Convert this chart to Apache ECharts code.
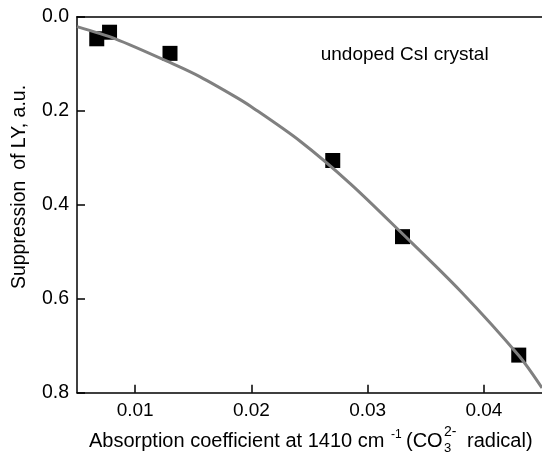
<!DOCTYPE html>
<html>
<head>
<meta charset="utf-8">
<script src="https://cdn.jsdelivr.net/npm/echarts@6/dist/echarts.min.js"></script>
<style>
html,body{margin:0;padding:0;background:#fff;}
#chart{width:542px;height:458px;}
</style>
</head>
<body>
<div id="chart"></div>
<script>
// Measured points (squares)
const pointX = [0.0067, 0.0078, 0.0130, 0.0270, 0.0330, 0.0430];
const pointY = [0.047, 0.033, 0.078, 0.306, 0.468, 0.720];
// Fit curve
const fitX = [0.005, 0.0083, 0.0135, 0.0156, 0.0186, 0.0199, 0.0242, 0.0285, 0.0328, 0.0380, 0.0430, 0.0450];
const fitY = [0.021, 0.047, 0.103, 0.128, 0.170, 0.190, 0.265, 0.355, 0.457, 0.584, 0.721, 0.790];
// Tick labels
const xTicks = [0.01, 0.02, 0.03, 0.04];
const yTicks = ['0.0', '0.2', '0.4', '0.6', '0.8'];

const FONT = '"Liberation Sans", Arial, sans-serif';
const chart = echarts.init(document.getElementById('chart'));

const pts = pointX.map((x, i) => [x, pointY[i]]);
const fit = fitX.map((x, i) => [x, fitY[i]]);

chart.setOption({
  animation: false,
  backgroundColor: '#fff',
  grid: { left: 77, right: 0, top: 16.7, bottom: 65.3, containLabel: false },
  xAxis: [{
    type: 'value', min: 0.005, max: 0.045, position: 'bottom',
    axisLine: { show: true, onZero: false, lineStyle: { color: '#000', width: 1.5 } },
    axisTick: { show: true, inside: true, length: 8, customValues: xTicks, lineStyle: { color: '#000', width: 1.5 } },
    axisLabel: { customValues: xTicks, color: '#000', fontSize: 19, fontFamily: FONT, margin: 9,
      formatter: v => String(Math.round(v * 100) / 100) },
    splitLine: { show: false }
  }, {
    type: 'value', min: 0.005, max: 0.045, position: 'top',
    axisLine: { show: true, onZero: false, lineStyle: { color: '#000', width: 1.5 } },
    axisTick: { show: false }, axisLabel: { show: false }, splitLine: { show: false }
  }],
  yAxis: {
    type: 'value', inverse: true, min: 0, max: 0.8, interval: 0.2,
    axisLine: { show: true, onZero: false, lineStyle: { color: '#000', width: 1.5 } },
    axisTick: { show: true, inside: true, length: 8, lineStyle: { color: '#000', width: 1.5 } },
    axisLabel: { color: '#000', fontSize: 19.5, fontFamily: FONT, margin: 8,
      formatter: v => yTicks[Math.round(v / 0.2)] },
    splitLine: { show: false }
  },
  series: [{
    type: 'scatter', data: pts, symbol: 'rect', symbolSize: 15,
    itemStyle: { color: '#000', opacity: 1 }, z: 2
  }, {
    type: 'line', data: fit, smooth: 0.3, showSymbol: false, clip: true,
    lineStyle: { color: '#808080', width: 3 }, z: 3
  }],
  graphic: [
    { type: 'text', x: 19.5, y: 187, rotation: Math.PI / 2,
      style: { text: 'Suppression  of LY, a.u.', font: '19.5px ' + FONT, fill: '#000', align: 'center', verticalAlign: 'middle' } },
    { type: 'text', x: 320.7, y: 54.5,
      style: { text: 'undoped CsI crystal', font: '19px ' + FONT, fill: '#000', align: 'left', verticalAlign: 'middle' } },
    { type: 'text', x: 89, y: 441.6,
      style: { text: 'Absorption coefficient at 1410 cm', font: '20px ' + FONT, fill: '#000', align: 'left', verticalAlign: 'middle' } },
    { type: 'text', x: 391, y: 434.7,
      style: { text: '-1', font: '12px ' + FONT, fill: '#000', align: 'left', verticalAlign: 'middle' } },
    { type: 'text', x: 406, y: 441.6,
      style: { text: '(CO', font: '20px ' + FONT, fill: '#000', align: 'left', verticalAlign: 'middle' } },
    { type: 'text', x: 444, y: 432.5,
      style: { text: '2-', font: '14px ' + FONT, fill: '#000', align: 'left', verticalAlign: 'middle' } },
    { type: 'text', x: 444, y: 448.8,
      style: { text: '3', font: '13px ' + FONT, fill: '#000', align: 'left', verticalAlign: 'middle' } },
    { type: 'text', x: 467, y: 441.6,
      style: { text: 'radical)', font: '20px ' + FONT, fill: '#000', align: 'left', verticalAlign: 'middle' } }
  ]
});
</script>
</body>
</html>
